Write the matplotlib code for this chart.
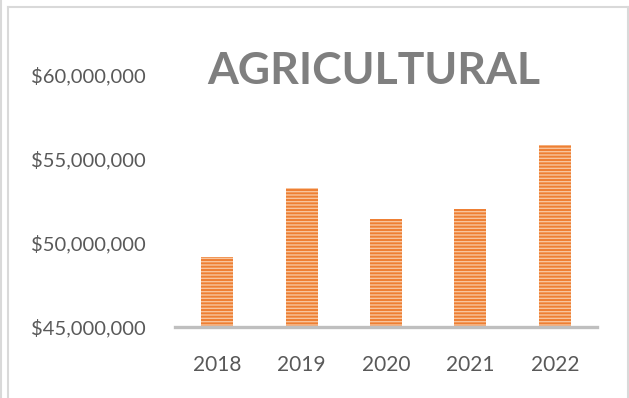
import matplotlib
matplotlib.use("Agg")
import matplotlib.pyplot as plt
from matplotlib.lines import Line2D
from matplotlib.ticker import FuncFormatter

years = ["2018", "2019", "2020", "2021", "2022"]
values = [49170000, 53270000, 51430000, 52000000, 55830000]
y_ticks = [45000000, 50000000, 55000000, 60000000]
title = "AGRICULTURAL"

W, H = 629, 398
plt.rcParams["font.family"] = ["Lato", "DejaVu Sans"]
plt.rcParams["hatch.linewidth"] = 1.0

fig = plt.figure(figsize=(W / 100, H / 100), dpi=100)
ax = fig.add_axes([175 / W, 1 - 327 / H, (597 - 175) / W, (327 - 75) / H])

x = list(range(len(years)))
ax.bar(x, values, width=0.38, color="#EE7F33", edgecolor="#F8C49C",
       linewidth=0, hatch="-----", zorder=2)

ax.set_xlim(-0.5, len(years) - 0.5)
ax.set_ylim(y_ticks[0], y_ticks[-1])
ax.set_yticks(y_ticks)
ax.yaxis.set_major_formatter(FuncFormatter(lambda v, p: "${:,.0f}".format(v)))
ax.set_xticks(x)
ax.set_xticklabels(years)
ax.tick_params(axis="both", length=0, colors="#595959")
ax.tick_params(axis="y", pad=21, labelsize=14.5)
ax.tick_params(axis="x", pad=20, labelsize=15)
for s in ["top", "right", "left"]:
    ax.spines[s].set_visible(False)
ax.spines["bottom"].set_color("#BFBFBF")
ax.spines["bottom"].set_linewidth(2.4)
ax.spines["bottom"].set_zorder(3)

fig.text(374 / W, 1 - 71 / H, title, ha="center", va="center",
         fontsize=32, fontweight="bold", color="#7F7F7F")

bc = "#D9D9D9"
def fl(x0, y0, x1, y1):
    fig.add_artist(Line2D([x0 / W, x1 / W], [1 - y0 / H, 1 - y1 / H],
                          color=bc, linewidth=1.5, transform=fig.transFigure))
fl(0.8, 0, 0.8, H)
fl(7.5, 6.5, 7.5, H)
fl(7.5, 6.5, 627.5, 6.5)
fl(627.5, 6.5, 627.5, H)

fig.savefig("out.png", dpi=100)
